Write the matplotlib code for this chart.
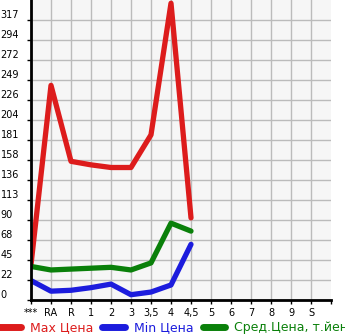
import numpy as np
import matplotlib
matplotlib.use("Agg")
import matplotlib.pyplot as plt

categories = ["***", "RA", "R", "1", "2", "3", "3,5", "4", "4,5", "5", "6", "7", "8", "9", "S"]
max_price = [40, 243, 157, 153, 150, 150, 187, 336, 93]
min_price = [22, 10, 11, 14, 18, 6, 9, 17, 63]
avg_price = [38, 34, 35, 36, 37, 34, 42, 87, 78]
ytick_labels = ["0", "22", "45", "68", "90", "113", "136", "158", "181", "204",
                "226", "249", "272", "294", "317"]

step = 317 / 14
W, H = 345, 335
fig = plt.figure(figsize=(W / 100, H / 100), dpi=100)
ax = fig.add_axes([31 / W, 35 / H, 300 / W, 300 / H])
ax.set_facecolor("#f6f6f6")

x = np.arange(len(max_price))
ax.plot(x, max_price, color="#dd1c1c", lw=3.8, solid_capstyle="round", label="Max Цена")
ax.plot(x, min_price, color="#1c1cdd", lw=3.8, solid_capstyle="round", label="Min Цена")
ax.plot(x, avg_price, color="#0a800a", lw=3.8, solid_capstyle="round", label="Сред.Цена, т.йен")

ax.set_xlim(0, 15)
ax.set_ylim(0, step * 15)
ax.set_xticks(np.arange(len(categories)))
ax.set_xticks([15], minor=True)
ax.set_xticklabels(categories, fontsize=7)
ax.set_yticks(np.arange(len(ytick_labels)) * step)
ax.set_yticklabels(ytick_labels, fontsize=7, va="bottom")
for lab in ax.get_yticklabels():
    lab.set_horizontalalignment("left")
ax.tick_params(axis="y", pad=18.8, length=3, width=1)
ax.tick_params(axis="x", which="both", pad=2.5, length=3, width=1)
ax.grid(True, color="#bbbbbb", lw=1)
ax.set_axisbelow(True)
for s in ["top", "right"]:
    ax.spines[s].set_visible(False)
for s in ["left", "bottom"]:
    ax.spines[s].set_linewidth(2)

leg = fig.legend(loc="center left", bbox_to_anchor=(-0.005, 7 / H), ncol=3, frameon=False,
                 fontsize=9, handlelength=1.8, handletextpad=0.75, columnspacing=0.7,
                 borderpad=0, borderaxespad=0)
for t, c in zip(leg.get_texts(), ["#dd1c1c", "#1c1cdd", "#0a800a"]):
    t.set_color(c)
for h in leg.legend_handles:
    h.set_linewidth(5)

fig.savefig("out.png", dpi=100)
